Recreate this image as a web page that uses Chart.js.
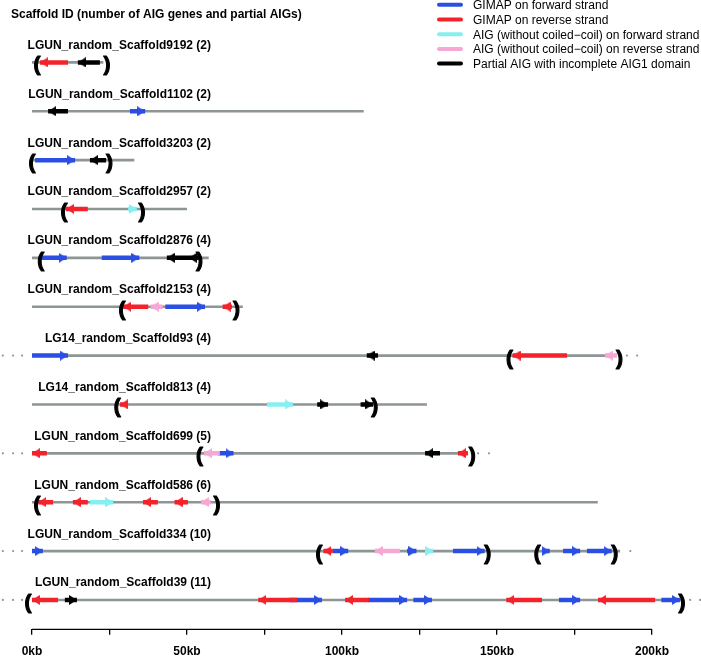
<!DOCTYPE html>
<html><head><meta charset="utf-8">
<script src="https://cdn.jsdelivr.net/npm/chart.js@4.4.1/dist/chart.umd.min.js"></script>
<style>html,body{margin:0;padding:0;background:#fff}canvas{display:block}</style>
</head><body>
<canvas id="c" width="701" height="657"></canvas>
<script>
// ---------- data (kb) ----------
const scaffoldLabels = [
  "LGUN_random_Scaffold9192 (2)", "LGUN_random_Scaffold1102 (2)", "LGUN_random_Scaffold3203 (2)",
  "LGUN_random_Scaffold2957 (2)", "LGUN_random_Scaffold2876 (4)", "LGUN_random_Scaffold2153 (4)",
  "LG14_random_Scaffold93 (4)", "LG14_random_Scaffold813 (4)", "LGUN_random_Scaffold699 (5)",
  "LGUN_random_Scaffold586 (6)", "LGUN_random_Scaffold334 (10)", "LGUN_random_Scaffold39 (11)"
];
const scaffoldLengths = [23, 107, 33, 50, 57, 68, 188.7, 127.4, 140.6, 182.5, 189.7, 210];
const leftDotRows = [7, 9, 11, 12];
const leftDotPositions = [-9.4, -6.1, -3.2];
const rightDots = [[7, 191.9], [7, 195.2], [9, 143.9], [9, 147.4], [11, 193], [12, 212.3], [12, 215.5]];

// [row, tail kb, head kb]
const gimapForward = [
  [2, 31.6, 36.5], [3, 1, 13.9], [5, 3.2, 11.2], [5, 22.5, 34.6], [6, 43, 55.8], [7, 0, 11.6],
  [9, 60, 65], [11, 0, 3.5], [11, 97, 102], [11, 121, 124], [11, 135.8, 146], [11, 164.5, 167],
  [11, 171.3, 176.8], [11, 179, 187], [12, 83, 93.5], [12, 108.4, 121], [12, 123, 129],
  [12, 170, 176.8], [12, 203, 209]
];
const gimapReverse = [
  [1, 11.6, 2.6], [4, 18, 11], [6, 37.5, 29.4], [6, 64.5, 61.5], [7, 172.6, 155], [8, 31, 28.4],
  [9, 4.8, 0], [9, 140.6, 137.4], [10, 6.8, 2], [10, 18, 13.2], [10, 40.6, 35.8], [10, 50.3, 46],
  [11, 97, 94], [12, 8.4, 0], [12, 85.5, 73], [12, 108.7, 101], [12, 164.5, 153], [12, 201, 182.6]
];
const aigForward = [[4, 31, 33.8], [8, 75.8, 84.2], [10, 18.7, 26.2], [11, 126.8, 129.4]];
const aigReverse = [[6, 42.2, 38.3], [7, 188.7, 184.8], [9, 60.6, 55.5], [10, 57.7, 54.5], [11, 118.7, 110.6]];
const partialAig = [
  [1, 21.9, 14.8], [2, 11.6, 5.2], [3, 23.9, 18.7], [5, 53, 43.5], [5, 53.8, 50.6], [7, 111.6, 108],
  [8, 92, 95.5], [8, 106, 110], [9, 131.6, 126.8], [12, 10.6, 14.5]
];
// [row, kb, glyph]
const brackets = [
  [1, 1.6, "("], [1, 24.2, ")"], [3, 0, "("], [3, 25, ")"], [4, 10.3, "("], [4, 35.5, ")"],
  [5, 2.8, "("], [5, 54, ")"], [6, 29, "("], [6, 66, ")"], [7, 154, "("], [7, 189.5, ")"],
  [8, 27.5, "("], [8, 110.6, ")"], [9, 54, "("], [9, 142, ")"], [10, 1.6, "("], [10, 59.7, ")"],
  [11, 92.6, "("], [11, 147, ")"], [11, 163, "("], [11, 188, ")"], [12, -1.3, "("], [12, 209.7, ")"]
];
const tickValues = [0, 25, 50, 75, 100, 125, 150, 175, 200];
const tickLabels = ["0kb", "", "50kb", "", "100kb", "", "150kb", "", "200kb"];
const legendLabels = [
  "GIMAP on forward strand", "GIMAP on reverse strand", "AIG (without coiled\u2212coil) on forward strand",
  "AIG (without coiled\u2212coil) on reverse strand", "Partial AIG with incomplete AIG1 domain"
];
const titleText = "Scaffold ID (number of AIG genes and partial AIGs)";

// ---------- styles ----------
const COLORS = { blue: "#2b4fe3", red: "#f3222b", cyan: "#86eff2", pink: "#f4a8d3", black: "#000000", grey: "#8d9595" };
const FONT = "'Liberation Sans', Arial, Helvetica, sans-serif";

function makeHead(color) {
  const L = 8, H = 10;
  const cv = document.createElement("canvas");
  cv.width = 2 * L; cv.height = H;
  const g = cv.getContext("2d");
  g.fillStyle = color;
  g.beginPath(); g.moveTo(0, 0); g.lineTo(L, H / 2); g.lineTo(0, H); g.closePath(); g.fill();
  return cv;
}

function geneDataset(list, color, label) {
  const data = [], rot = [], rad = [];
  list.forEach(([r, t, h]) => {
    data.push({ x: t, y: r }, { x: h, y: r }, { x: h, y: null });
    rot.push(0, h >= t ? 0 : 180, 0);
    rad.push(0, 5, 0);
  });
  return {
    label, data, showLine: true, borderColor: color, backgroundColor: color, borderWidth: 4.5,
    borderCapStyle: "butt", pointStyle: makeHead(color), pointRadius: rad, pointHoverRadius: rad,
    pointRotation: rot, spanGaps: false, order: 1, clip: false
  };
}

const scaffoldData = [];
scaffoldLengths.forEach((len, i) => {
  scaffoldData.push({ x: 0, y: i + 1 }, { x: len, y: i + 1 }, { x: len, y: null });
});
const dotData = [];
leftDotRows.forEach(r => leftDotPositions.forEach(p => dotData.push({ x: p, y: r })));
rightDots.forEach(([r, p]) => dotData.push({ x: p, y: r }));

const datasets = [
  geneDataset(partialAig, COLORS.black, "partial"),
  geneDataset(aigReverse, COLORS.pink, "aigRev"),
  geneDataset(aigForward, COLORS.cyan, "aigFwd"),
  geneDataset(gimapReverse, COLORS.red, "gimapRev"),
  geneDataset(gimapForward, COLORS.blue, "gimapFwd"),
  { label: "scaffolds", data: scaffoldData, showLine: true, borderColor: COLORS.grey, borderWidth: 2.6,
    pointRadius: 0, spanGaps: false, order: 5, clip: false },
  { label: "dots", data: dotData, showLine: false, pointRadius: 1.1, pointBackgroundColor: COLORS.grey,
    pointBorderWidth: 0, order: 5, clip: false }
];

const overlay = {
  id: "overlay",
  afterDatasetsDraw(chart) {
    const { ctx, scales: { x, y }, chartArea } = chart;
    ctx.save();
    // brackets
    ctx.fillStyle = "#000";
    ctx.strokeStyle = "#000";
    ctx.lineWidth = 1.1;
    ctx.lineJoin = "round";
    ctx.font = "bold 21px " + FONT;
    ctx.textAlign = "center";
    ctx.textBaseline = "alphabetic";
    brackets.forEach(([r, kb, g]) => {
      const px = x.getPixelForValue(kb), py = y.getPixelForValue(r) + 9;
      ctx.fillText(g, px, py);
      ctx.strokeText(g, px, py);
    });
    // row labels
    ctx.font = "bold 12px " + FONT;
    ctx.textAlign = "right";
    scaffoldLabels.forEach((lab, i) => ctx.fillText(lab, 211, y.getPixelForValue(i + 1) - 13.5));
    // title
    ctx.textAlign = "left";
    ctx.fillText(titleText, 11, 18);
    // legend
    const legColors = [COLORS.blue, COLORS.red, COLORS.cyan, COLORS.pink, COLORS.black];
    ctx.font = "12px " + FONT;
    legendLabels.forEach((lab, i) => {
      const yy = 4.8 + i * 14.7;
      ctx.strokeStyle = legColors[i];
      ctx.lineWidth = 4;
      ctx.lineCap = "round";
      ctx.beginPath(); ctx.moveTo(439, yy); ctx.lineTo(461, yy); ctx.stroke();
      ctx.fillStyle = "#000";
      ctx.fillText(lab, 473, yy + 4.3);
    });
    // axis line
    ctx.strokeStyle = "#000";
    ctx.lineWidth = 1.3;
    ctx.lineCap = "butt";
    ctx.beginPath();
    ctx.moveTo(x.getPixelForValue(tickValues[0]), chartArea.bottom + 0.5);
    ctx.lineTo(x.getPixelForValue(tickValues[tickValues.length - 1]), chartArea.bottom + 0.5);
    ctx.stroke();
    ctx.restore();
  }
};

new Chart(document.getElementById("c"), {
  type: "scatter",
  data: { datasets },
  plugins: [overlay],
  options: {
    responsive: false, animation: false, devicePixelRatio: 1,
    layout: { padding: { top: 0, left: 0, right: 0, bottom: -12 }, autoPadding: false },
    plugins: { legend: { display: false }, tooltip: { enabled: false } },
    events: [],
    scales: {
      x: {
        type: "linear", min: -10.32, max: 215.8,
        afterBuildTicks: s => { s.ticks = tickValues.map(v => ({ value: v })); },
        ticks: {
          autoSkip: false, maxRotation: 0, color: "#000", padding: 12,
          font: { family: FONT, size: 12, weight: "bold", lineHeight: 0.85 },
          callback: (v) => { const i = tickValues.indexOf(v); return i >= 0 ? tickLabels[i] : ""; }
        },
        border: { display: false },
        grid: { drawOnChartArea: false, drawTicks: true, tickLength: 6, color: "#000", lineWidth: 1.3 }
      },
      y: { type: "linear", reverse: true, min: -0.2765, max: 12.59, display: false }
    }
  }
});
</script>
</body></html>
